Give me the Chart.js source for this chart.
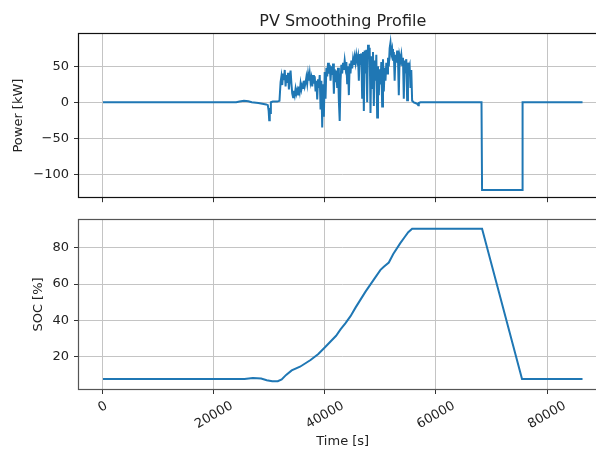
<!DOCTYPE html>
<html>
<head>
<meta charset="utf-8">
<script src="https://cdn.jsdelivr.net/npm/chart.js@4.4.1/dist/chart.umd.min.js"></script>
<style>
html, body { margin: 0; padding: 0; background: #fff; overflow: hidden; }
#wrap { position: relative; width: 596px; height: 450px; overflow: hidden; }
#powerChart { position: absolute; left: 0; top: 0; }
#socChart { position: absolute; left: 0; top: 205px; }
</style>
</head>
<body>
<div id="wrap">
    <canvas id="powerChart" width="607" height="210"></canvas>
    <canvas id="socChart" width="607" height="245"></canvas>
</div>
<script>
// battery power [kW] over the day
var powerTime = [0, 24000, 24600, 25400, 26200, 26800, 28000, 29400, 29700, 29850, 29950, 30050, 30150, 30250, 30600, 31400, 31800,
    32000, 32150, 32300, 32450, 32600, 32750, 32900, 33050, 33200, 33350, 33500, 33650, 33800, 33950, 34100, 34250, 34400, 34550, 34700, 34850,
    35000, 35150, 35300, 35450, 35600, 35750, 35900, 36050, 36200, 36350, 36500, 36650, 36800, 36950, 37100, 37250, 37400, 37550, 37700, 37850,
    38000, 38150, 38300, 38450, 38600, 38750, 38900, 39050, 39200, 39350, 39500, 39650, 39800, 39950, 40100, 40250, 40400, 40550, 40700, 40850,
    41000, 41150, 41300, 41450, 41600, 41750, 41900, 42050, 42200, 42350, 42500, 42650, 42800, 42950, 43100, 43250, 43400, 43550, 43700, 43850,
    44000, 44150, 44300, 44450, 44600, 44750, 44900, 45050, 45200, 45350, 45500, 45650, 45800, 45950, 46100, 46250, 46400, 46550, 46700, 46850,
    47000, 47150, 47300, 47450, 47600, 47750, 47900, 48050, 48200, 48350, 48500, 48650, 48800, 48950, 49100, 49250, 49400, 49550, 49700, 49850,
    50000, 50150, 50300, 50450, 50600, 50750, 50900, 51050, 51200, 51350, 51500, 51650, 51800, 51950, 52100, 52250, 52400, 52550, 52700, 52850,
    53000, 53150, 53300, 53450, 53600, 53750, 53900, 54050, 54200, 54350, 54500, 54650, 54800, 54950, 55100, 55250, 55400, 55550, 55700, 55850,
    56000, 56300, 56600, 56800, 56900, 57200, 68200, 68300, 75500, 75600, 86400];
var powerKW = [0, 0, 1, 2, 1.5, 0, -1, -3, -4, -12, -25, -8, -15, 0, 1, 1, 2,
    28, 36, 24, 40, 31, 45, 22, 38, 27, 41, 18, 35, 44, 26, 12, 7, 16, 10, 19, 12,
    17, 11, 22, 15, 26, 18, 24, 20, 30, 22, 27, 35, 26, 39, 30, 40, 28, 34, 22, 38,
    26, 36, 15, 30, 4, 32, 20, 38, -10, 30, -35, 25, -20, 42, 5, 48, 36, 55, 40, 52,
    30, 50, 38, 54, 12, 46, 28, 44, 20, 48, 2, -26, 30, 52, 40, 55, 45, 58, 48, 56,
    25, 50, 10, 54, 40, 58, 47, 60, 52, 63, 55, 66, 58, 64, 30, 67, 60, 68, 5, 70,
    -12, 72, 40, 73, 0, 80, 62, 76, -15, 64, 20, 70, -5, 58, 30, 66, -21, 50, 10, 46,
    25, 56, -6, 60, 15, 48, 30, 55, 40, 62, 50, 75, 83, 68, 74, 58, 70, 30, 66, 55,
    72, 62, 10, 64, 58, 66, 52, 62, 5, 58, 50, 60, 3, 55, 48, 52, 20, 45, 2, 1,
    0, -1, -2, -4, -1, 0, 0, -122, -122, 0, 0];

// state of charge [%]
var socTime = [0, 25500, 27000, 28500, 29500, 30500, 31500, 32200, 33000, 34000, 35500, 37400, 38800, 40000, 41000, 42000, 42800,
    43700, 44600, 45500, 46400, 47300, 48200, 49100, 50000, 50600, 51500, 52300, 53600, 54400, 55000, 55700, 68300, 75500, 86400];
var socPct = [7.7, 7.7, 8.3, 8.0, 7.1, 6.5, 6.5, 7.5, 10, 12.5, 14.5, 18.2, 21.5, 25.2, 28.4, 31.5, 35,
    38.5, 42.3, 47, 51.4, 55.8, 59.8, 63.8, 67.8, 69.5, 71.8, 76.5, 82.6, 86, 88.5, 90.4, 90.4, 7.7, 7.7];

var timeTicks = [0, 20000, 40000, 60000, 80000];
var powerTicks = [-100, -50, 0, 50];
var socTicks = [20, 40, 60, 80];

var lineColor = '#1f77b4';
var textColor = '#222';
var gridColor = '#c4c4c4';
var fontFamily = '"DejaVu Sans", sans-serif';

function points(xs, ys) {
    return xs.map(function (x, i) { return { x: x, y: ys[i] }; });
}

function fixedTicks(list) {
    return function (scale) {
        scale.ticks = list.map(function (v) { return { value: v }; });
    };
}

// matplotlib style box round the plot area
var framePlugin = {
    id: 'frame',
    afterDatasetsDraw: function (chart, args, opts) {
        var a = chart.chartArea;
        var ctx = chart.ctx;
        ctx.save();
        ctx.strokeStyle = opts.color;
        ctx.lineWidth = 1.2;
        ctx.strokeRect(Math.round(a.left) - 0.5, Math.round(a.top) - 0.5, a.right - a.left, Math.round(a.bottom - a.top) + 1);
        ctx.restore();
    }
};

// x tick labels turned by 30 degrees and centred under each tick
var rotatedTicks = {
    id: 'rotatedTicks',
    afterDraw: function (chart) {
        var xs = chart.scales.x;
        var ctx = chart.ctx;
        var ang = 30 * Math.PI / 180;
        var y0 = chart.chartArea.bottom + 5 + 4.3;
        ctx.save();
        ctx.font = '13px ' + fontFamily;
        ctx.fillStyle = textColor;
        ctx.textAlign = 'center';
        ctx.textBaseline = 'middle';
        timeTicks.forEach(function (v) {
            var label = String(v);
            var w = ctx.measureText(label).width;
            var h = 13 * 1.16;
            var bh = w * Math.sin(ang) + h * Math.cos(ang);
            ctx.save();
            ctx.translate(xs.getPixelForValue(v), y0 + bh / 2);
            ctx.rotate(-ang);
            ctx.fillText(label, 0, 0);
            ctx.restore();
        });
        ctx.restore();
    }
};

function yAxis(min, max, ticks, title, titlePad) {
    return {
        type: 'linear',
        min: min,
        max: max,
        afterBuildTicks: fixedTicks(ticks),
        afterFit: function (scale) { scale.width = 79; },
        border: { display: false },
        grid: { color: gridColor, lineWidth: 1, tickLength: 5, tickColor: '#333' },
        ticks: {
            padding: 5,
            color: textColor,
            font: { family: fontFamily, size: 13 },
            callback: function (v) { return String(v).replace('-', '\u2212'); }
        },
        title: {
            display: true,
            text: title,
            color: textColor,
            font: { family: fontFamily, size: 13 },
            padding: { top: titlePad, bottom: 0 }
        }
    };
}

function xAxis(height, title) {
    var axis = {
        type: 'linear',
        min: -4320,
        max: 90720,
        afterBuildTicks: fixedTicks(timeTicks),
        afterFit: function (scale) { scale.height = height; },
        border: { display: false },
        grid: { color: gridColor, lineWidth: 1, tickLength: 5, tickColor: '#333' },
        ticks: { display: false }
    };
    if (title) {
        axis.title = {
            display: true,
            text: title,
            color: textColor,
            font: { family: fontFamily, size: 13 },
            padding: { top: 0, bottom: 0 }
        };
    }
    return axis;
}

var lineStyle = {
    borderColor: lineColor,
    borderWidth: 2,
    pointRadius: 0,
    tension: 0,
    fill: false
};

new Chart(document.getElementById('powerChart'), {
    type: 'line',
    data: {
        datasets: [Object.assign({ label: 'Power', data: points(powerTime, powerKW) }, lineStyle)]
    },
    options: {
        responsive: false,
        animation: false,
        layout: { padding: { left: 0, right: 0.5, top: 0, bottom: 0 } },
        scales: {
            x: xAxis(8, null),
            y: yAxis(-132, 95, powerTicks, 'Power [kW]', 10.8)
        },
        plugins: {
            legend: { display: false },
            tooltip: { enabled: false },
            frame: { color: '#111' },
            title: {
                display: true,
                text: 'PV Smoothing Profile',
                fullSize: false,
                color: textColor,
                font: { family: fontFamily, size: 16, weight: 'normal' },
                padding: { top: 12.4, bottom: 2.4 }
            }
        }
    },
    plugins: [framePlugin]
});

new Chart(document.getElementById('socChart'), {
    type: 'line',
    data: {
        datasets: [Object.assign({ label: 'SOC', data: points(socTime, socPct) }, lineStyle)]
    },
    options: {
        responsive: false,
        animation: false,
        layout: { padding: { left: 0, right: 0.5, top: 15, bottom: 1 } },
        scales: {
            x: xAxis(60, 'Time [s]'),
            y: yAxis(2.25, 95.2, socTicks, 'SOC [%]', 31.3)
        },
        plugins: {
            legend: { display: false },
            tooltip: { enabled: false },
            frame: { color: '#555' }
        }
    },
    plugins: [framePlugin, rotatedTicks]
});
</script>
</body>
</html>
